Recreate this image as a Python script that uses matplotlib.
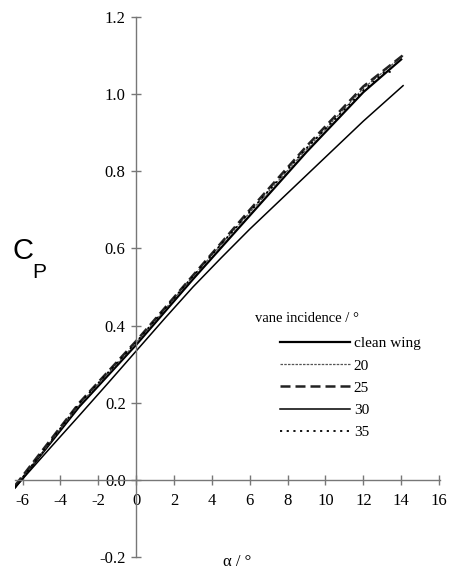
import matplotlib
matplotlib.use("Agg")
from matplotlib import pyplot as plt
import numpy as np

# angle of attack (deg) and pressure coefficient
alpha_30 = [-6.4, -4.5, -3, -1.5, 0, 1.5, 3, 4.5, 6, 7.5, 9, 10.5, 12, 14.1]
cp_30 = [-0.02, 0.085, 0.167, 0.25, 0.334, 0.418, 0.5, 0.576, 0.65, 0.72, 0.79, 0.86, 0.93, 1.022]

alpha_clean = [-6.4, -3, 0, 3, 6, 9, 12, 14.0]
cp_clean = [-0.02, 0.19, 0.35, 0.52, 0.685, 0.85, 1.005, 1.09]

alpha_20 = [-6.4, -3, 0, 3, 6, 9, 12, 14.1]
cp_20 = [-0.02, 0.195, 0.355, 0.527, 0.693, 0.857, 1.015, 1.10]

alpha_25 = [-6.4, -3, 0, 3, 6, 9, 12, 14.2]
cp_25 = [-0.015, 0.20, 0.36, 0.53, 0.70, 0.865, 1.02, 1.105]

alpha_35 = [-6.4, -3, 0, 3, 6, 9, 12, 13.2, 13.6]
cp_35 = [-0.02, 0.198, 0.357, 0.528, 0.695, 0.86, 1.01, 1.06, 1.055]

xticks = [-6, -4, -2, 0, 2, 4, 6, 8, 10, 12, 14, 16]
yticks = [-0.2, 0.0, 0.2, 0.4, 0.6, 0.8, 1.0, 1.2]

serif = "Liberation Serif"

fig = plt.figure(figsize=(4.49, 5.73), dpi=100)
ax = fig.add_axes([15 / 449, 1 - 557 / 573, (440 - 15) / 449, (557 - 17) / 573])

l1, = ax.plot(alpha_clean, cp_clean, color="black", lw=1.6, ls="-")
l2, = ax.plot(alpha_20, cp_20, color="#555555", lw=0.9, ls=(0, (2, 1)))
l3, = ax.plot(alpha_25, cp_25, color="#222222", lw=1.8, ls=(0, (4, 2)))
l4, = ax.plot(alpha_30, cp_30, color="black", lw=1.1, ls="-")
l5, = ax.plot(alpha_35, cp_35, color="black", lw=1.3, ls=(0, (1.2, 2.5)))

ax.set_xlim(-6.4, 16.05)
ax.set_ylim(-0.2, 1.2)

for s in ["top", "right"]:
    ax.spines[s].set_visible(False)
ax.spines["left"].set_position(("data", 0))
ax.spines["bottom"].set_position(("data", 0))
for s in ["left", "bottom"]:
    ax.spines[s].set_color("#777777")
    ax.spines[s].set_linewidth(1.0)

ax.set_xticks(xticks)
ax.set_xticklabels([str(t) for t in xticks], fontfamily=serif, fontsize=12)
ax.set_yticks(yticks)
ax.set_yticklabels(["%.1f" % t for t in yticks], fontfamily=serif, fontsize=12)
ax.tick_params(axis="both", direction="inout", length=7, width=1.0, color="#777777")
ax.tick_params(axis="x", pad=6)
ax.tick_params(axis="y", pad=4)

fig.text(12 / 449, 1 - 259 / 573, "C", fontsize=21, family="Liberation Sans", va="baseline")
fig.text(32 / 449, 1 - 278 / 573, "P", fontsize=15, family="Liberation Sans", va="baseline")
fig.text(237 / 449, 1 - 566 / 573, "α / °", fontsize=12, family=serif, ha="center", va="baseline")

fig.text(255 / 449, 1 - 318 / 573, "vane incidence / °", fontsize=10.5, family=serif, va="center")
ax.legend([l1, l2, l3, l4, l5], ["clean wing", "20", "25", "30", "35"],
          loc="upper left", bbox_to_anchor=(272 / 449, 1 - 329 / 573),
          bbox_transform=fig.transFigure, frameon=False, borderpad=0,
          handlelength=4.6, handletextpad=0.25, labelspacing=0.56,
          prop={"family": serif, "size": 11})

fig.savefig("out.png", dpi=100)
